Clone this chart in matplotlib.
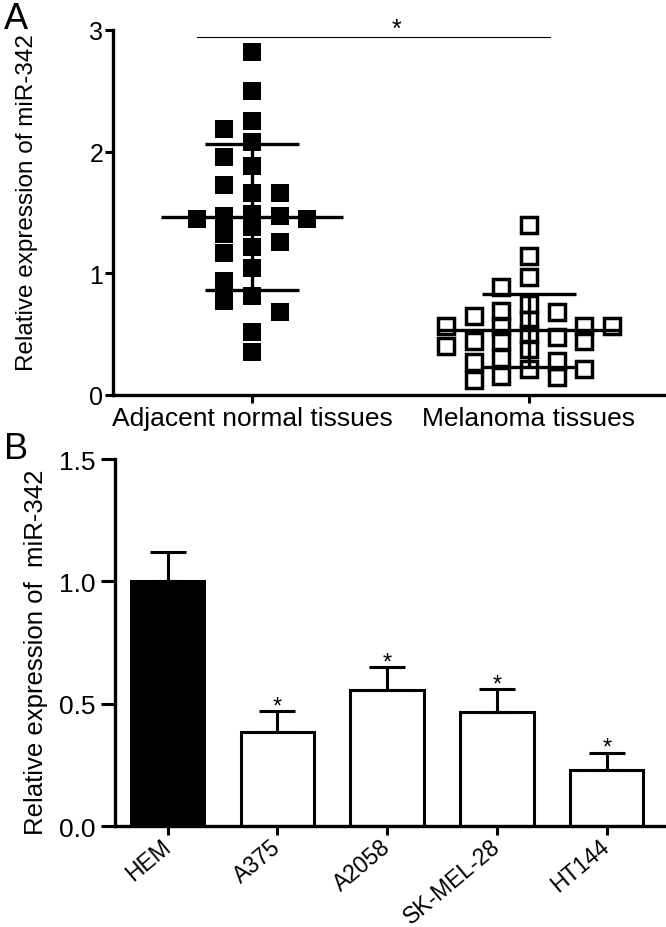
import numpy as np
import matplotlib
matplotlib.use("Agg")
import matplotlib.pyplot as plt

plt.rcParams['font.family'] = ['Liberation Sans', 'DejaVu Sans']

# Panel A: relative miR-342 expression in tissues
groups = ['Adjacent normal tissues', 'Melanoma tissues']
normal = [2.82, 2.50, 2.25, 2.19, 2.08, 1.96, 1.88, 1.73, 1.66, 1.66,
          1.49, 1.47, 1.45, 1.47, 1.45, 1.38, 1.32, 1.26, 1.22, 1.17,
          1.04, 0.94, 0.81, 0.77, 0.68, 0.52, 0.35]
melanoma = [1.40, 1.14, 0.97, 0.89, 0.75, 0.68, 0.69, 0.65, 0.62, 0.57,
            0.57, 0.57, 0.57, 0.48, 0.44, 0.38, 0.44, 0.30, 0.40, 0.44,
            0.50, 0.28, 0.21, 0.16, 0.12, 0.15, 0.21, 0.27]

# Panel B: cell lines
cell_lines = ['HEM', 'A375', 'A2058', 'SK-MEL-28', 'HT144']
expr = [1.0, 0.385, 0.555, 0.466, 0.23]
expr_sd = [0.12, 0.085, 0.095, 0.094, 0.07]
signif = ['', '*', '*', '*', '*']


# greedy swarm: nearest free column, limited width; if none free, least crowded
def swarm(vals, step, thresh, max_k):
    vals = np.asarray(vals)
    order = np.argsort(-vals, kind='stable')
    offs = np.zeros(len(vals))
    placed = []
    slots = [0]
    for k in range(1, max_k + 1):
        slots += [-k, k]
    for idx in order:
        v = vals[idx]
        best, best_d = None, -1
        for slot in slots:
            d = min([abs(pv - v) for s, pv in placed if s == slot] + [np.inf])
            if d >= thresh:
                best = slot
                break
            if d > best_d:
                best, best_d = slot, d
        offs[idx] = best * step
        placed.append((best, v))
    return offs


fig = plt.figure(figsize=(6.66, 9.28), dpi=100)

# ---------- Panel A ----------
axA = fig.add_axes([0.1697, 0.5733, 0.827, 0.3933])
for i, vals in enumerate([normal, melanoma]):
    xc = i + 1
    if i == 0:
        xpos = xc + swarm(vals, 0.1, 0.15, 2)
        axA.plot(xpos, vals, 's', ms=13.5, mfc='black', mec='black', mew=0,
                 ls='none', zorder=3)
    else:
        xpos = xc + swarm(vals, 0.1, 0.12, 3)
        axA.plot(xpos, vals, 's', ms=11.5, mfc='none', mec='black', mew=2.5,
                 ls='none', zorder=3)
    m = np.mean(vals)
    sd = np.std(vals, ddof=1)
    axA.hlines(m, xc - 0.33, xc + 0.33, color='black', lw=2.4, zorder=4)
    axA.hlines([m - sd, m + sd], xc - 0.17, xc + 0.17, color='black', lw=2.4, zorder=4)
    axA.vlines(xc, m - sd, m + sd, color='black', lw=2.4, zorder=4)

axA.plot([0.80, 2.076], [2.94, 2.94], color='black', lw=0.8, clip_on=False)
axA.text(1.52, 2.95, '*', ha='center', va='baseline', fontsize=18)

axA.set_xlim(0.498, 2.487)
axA.set_ylim(0, 3)
axA.set_yticks([0, 1, 2, 3])
axA.set_xticks([1, 2])
axA.set_xticklabels(groups, fontsize=19)
axA.tick_params(axis='y', labelsize=18, length=6, width=2.2, direction='out', pad=1)
axA.tick_params(axis='x', length=6, width=2.2, direction='out', pad=2)
for s in ['top', 'right']:
    axA.spines[s].set_visible(False)
for s in ['left', 'bottom']:
    axA.spines[s].set_linewidth(2.4)
axA.set_ylabel('Relative expression of miR-342', fontsize=17.5)
axA.yaxis.set_label_coords(-0.136, 0.53)

# ---------- Panel B ----------
axB = fig.add_axes([0.1727, 0.1088, 0.824, 0.3955])
x = np.arange(len(cell_lines))
colors = ['black'] + ['white'] * (len(cell_lines) - 1)
axB.bar(x, expr, width=0.67, color=colors, edgecolor='black', linewidth=2.2, zorder=2)
axB.errorbar(x, expr, yerr=[np.zeros(len(x)), expr_sd], fmt='none', ecolor='black',
             elinewidth=2.2, capsize=13, capthick=2.2, zorder=3)
for xi, v, e, s in zip(x, expr, expr_sd, signif):
    if s:
        axB.text(xi, v + e - 0.005, s, ha='center', va='baseline', fontsize=17)

axB.set_xlim(-0.48, 4.52)
axB.set_ylim(0, 1.5)
axB.set_yticks([0, 0.5, 1.0, 1.5])
axB.set_yticklabels(['0.0', '0.5', '1.0', '1.5'])
axB.set_xticks(x)
axB.set_xticklabels(cell_lines, rotation=40, ha='right', va='center',
                    rotation_mode='anchor', fontsize=16.5)
axB.tick_params(axis='y', labelsize=19, length=10, width=2.2, direction='out', pad=4)
axB.tick_params(axis='x', length=6.5, width=2.2, direction='out', pad=6)
for s in ['top', 'right']:
    axB.spines[s].set_visible(False)
for s in ['left', 'bottom']:
    axB.spines[s].set_linewidth(2.4)
axB.set_ylabel('Relative expression of  miR-342', fontsize=18.5)
axB.yaxis.set_label_coords(-0.122, 0.477)

fig.text(0.006, 0.998, 'A', fontsize=26, va='top', ha='left')
fig.text(0.006, 0.535, 'B', fontsize=26, va='top', ha='left')

fig.savefig('out.png', dpi=100)
